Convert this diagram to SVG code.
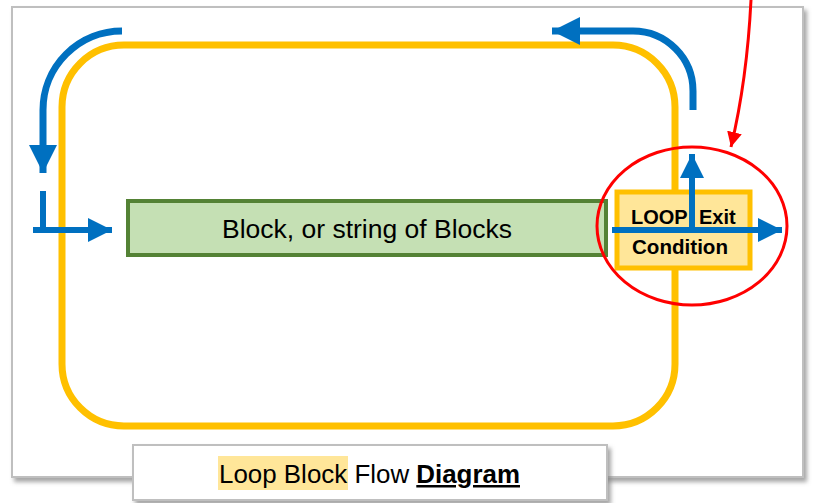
<svg xmlns="http://www.w3.org/2000/svg" width="816" height="503" viewBox="0 0 816 503">
<defs>
<style>
.frame{fill:#fff;stroke:#BFBFBF;stroke-width:2}
.blue{fill:none;stroke:#0070C0;stroke-width:7}
.bluethin{fill:none;stroke:#0070C0;stroke-width:6}
.t{font-family:"Liberation Sans",Arial,sans-serif;fill:#000}
.b{font-size:20px;font-weight:bold}
</style>
<filter id="sh" x="-5%" y="-5%" width="110%" height="115%">
<feDropShadow dx="3" dy="4" stdDeviation="2" flood-color="#808080" flood-opacity="0.7"/>
</filter>
<marker id="ah" viewBox="0 0 10 10" refX="10" refY="5" markerWidth="4" markerHeight="4" markerUnits="strokeWidth" orient="auto">
<path d="M0,0 L10,5 L0,10 Z" fill="#0070C0"/>
</marker>
<marker id="ar" viewBox="0 0 10 10" refX="10" refY="5" markerWidth="5" markerHeight="5" markerUnits="strokeWidth" orient="auto">
<path d="M0,0 L10,5 L0,10 Z" fill="#FF0000"/>
</marker>
</defs>
<rect id="frame" class="frame" x="12" y="7" width="791" height="470" filter="url(#sh)"/>
<g id="loop">
<rect x="62" y="45" width="613" height="381" rx="62" ry="62" fill="none" stroke="#FFC000" stroke-width="7"/>
</g>
<g id="block">
<rect x="128" y="201" width="478" height="54" fill="#C5E0B4" stroke="#548235" stroke-width="4"/>
<text class="t" x="222" y="238" font-size="25" textLength="290" lengthAdjust="spacingAndGlyphs">Block, or string of Blocks</text>
</g>
<g id="exit">
<rect x="617" y="192" width="133" height="76" fill="#FFE699" stroke="#FFC000" stroke-width="5"/>
<text class="t b" x="631" y="224">LOOP</text>
<text class="t b" x="699" y="224">Exit</text>
<text class="t b" x="632" y="254" textLength="96" lengthAdjust="spacingAndGlyphs">Condition</text>
</g>
<g id="connectors">
<path class="blue" d="M693,110 L693,91 A60,60 0 0 0 633,31 L552,31" marker-end="url(#ah)"/>
<path class="blue" d="M122,31 A79,79 0 0 0 43,110 L43,173" marker-end="url(#ah)"/>
<path class="bluethin" d="M43,191 L43,230"/>
<path class="bluethin" d="M33,230 L112,230" marker-end="url(#ah)"/>
<path class="bluethin" d="M612,230 L782,230" marker-end="url(#ah)"/>
<path class="bluethin" d="M692,230 L692,154" marker-end="url(#ah)"/>
<ellipse cx="692" cy="226" rx="95" ry="79" fill="none" stroke="#FF0000" stroke-width="3"/>
<path d="M751,0 Q747,80 731,147" fill="none" stroke="#FF0000" stroke-width="3" marker-end="url(#ar)"/>
</g>
<g id="caption">
<rect class="frame" x="133" y="445" width="474" height="55" filter="url(#sh)"/>
<rect x="218" y="456" width="130" height="34" fill="#FFE699"/>
<text class="t" x="219" y="483" font-size="25" textLength="301" lengthAdjust="spacingAndGlyphs">Loop Block Flow <tspan font-weight="bold" text-decoration="underline">Diagram</tspan></text>
</g>
</svg>
